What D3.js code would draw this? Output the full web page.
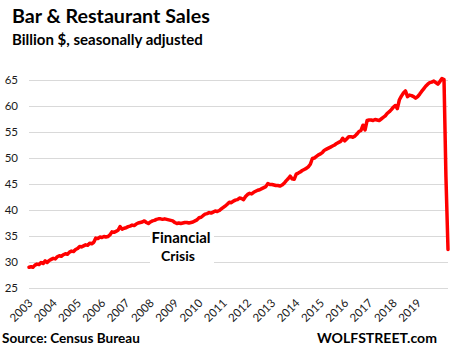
<!DOCTYPE html>
<html>
<head>
<meta charset="utf-8">
<script src="https://cdn.jsdelivr.net/npm/d3@7"></script>
<style>
  body { margin: 0; background: #fff; }
  svg { display: block; font-family: Lato, "Open Sans", sans-serif; }
</style>
</head>
<body>
<svg id="body" width="455" height="352"></svg>
<script>
// monthly sales, billion $, Jan 2003 .. Apr 2020
let startMonth = new Date(2003, 0, 1);
let sales = [
  29.0, 29.1, 29.0, 29.4, 29.6, 29.5, 29.9, 29.7, 30.2, 29.9, 30.3, 30.5, // 2003
  30.7, 30.6, 31.0, 31.2, 31.1, 31.4, 31.6, 31.5, 31.9, 32.1, 32.0, 32.4, // 2004
  32.6, 33.0, 32.9, 33.1, 33.3, 33.2, 33.6, 33.5, 33.8, 34.6, 34.5, 34.8, // 2005
  34.7, 34.9, 34.8, 34.9, 35.2, 35.8, 35.7, 35.9, 36.1, 36.8, 36.3, 36.5, // 2006
  36.6, 36.8, 36.9, 37.1, 37.0, 37.3, 37.5, 37.6, 37.7, 37.9, 37.6, 37.4, // 2007
  37.7, 37.9, 38.0, 38.2, 38.3, 38.3, 38.2, 38.3, 38.2, 38.1, 38.0, 37.9, // 2008
  37.6, 37.4, 37.5, 37.4, 37.5, 37.6, 37.6, 37.5, 37.6, 37.7, 37.9, 38.1, // 2009
  38.5, 38.6, 38.9, 39.2, 39.3, 39.5, 39.4, 39.6, 39.8, 39.7, 39.9, 40.2, // 2010
  40.5, 40.8, 41.1, 41.5, 41.4, 41.7, 41.9, 42.0, 42.3, 42.2, 42.0, 42.6, // 2011
  43.0, 43.2, 43.1, 43.4, 43.6, 43.8, 43.9, 44.1, 44.3, 44.5, 45.1, 44.9, // 2012
  44.9, 44.8, 44.7, 44.7, 44.6, 44.8, 45.1, 45.6, 46.0, 46.5, 46.0, 45.9, // 2013
  46.9, 47.1, 47.3, 47.6, 47.8, 48.0, 48.3, 48.8, 49.9, 50.0, 50.3, 50.6, // 2014
  50.8, 51.1, 51.5, 51.7, 51.9, 52.1, 52.3, 52.5, 52.8, 53.0, 53.2, 53.8, // 2015
  53.3, 53.7, 54.1, 54.1, 54.0, 54.2, 54.6, 55.1, 55.3, 56.3, 55.4, 57.2, // 2016
  57.3, 57.3, 57.2, 57.4, 57.3, 57.2, 57.5, 57.8, 58.1, 58.6, 58.9, 59.3, // 2017
  59.8, 60.1, 59.5, 61.2, 61.9, 62.5, 62.9, 61.8, 62.1, 62.0, 61.8, 61.5, // 2018
  61.8, 62.3, 62.8, 63.3, 63.8, 64.2, 64.5, 64.6, 64.8, 64.5, 64.2, 64.7, // 2019
  65.3, 65.1, 46.4, 32.4                                                  // 2020
];
let yearLabels = ["2003", "2004", "2005", "2006", "2007", "2008", "2009", "2010",
  "2011", "2012", "2013", "2014", "2015", "2016", "2017", "2018", "2019"];
let yTicks = [25, 30, 35, 40, 45, 50, 55, 60, 65];

let svg = d3.select("#body");

let data = sales.map((v, i) => ({ date: d3.timeMonth.offset(startMonth, i), value: v }));

let x = d3.scaleTime()
    .domain(d3.extent(data, d => d.date))
    .range([29, 448]);

let y = d3.scaleLinear()
    .domain([25, 65])
    .range([288, 80]);

// gridlines + y labels
let yAxis = d3.axisLeft(y)
    .tickValues(yTicks)
    .tickSize(-(448 - 29))
    .tickPadding(11);

svg.append("g")
    .attr("transform", "translate(29, 0)")
    .call(yAxis)
    .call(g => g.select(".domain").remove())
    .call(g => g.selectAll("line").attr("stroke", "#d9d9d9").attr("stroke-width", 1))
    .call(g => g.selectAll("text")
        .attr("fill", "#1a1a1a")
        .style("font-size", "11.5px")
        .style("font-family", "Lato"));

// year labels
let xAxis = d3.axisBottom(x)
    .tickValues(yearLabels.map(yr => new Date(+yr, 0, 1)))
    .tickFormat(d3.timeFormat("%Y"))
    .tickSize(0);

svg.append("g")
    .attr("transform", "translate(0, 288)")
    .call(xAxis)
    .call(g => g.select(".domain").remove())
    .call(g => g.selectAll("text")
        .attr("y", 0)
        .attr("dy", "0.35em")
        .attr("text-anchor", "end")
        .attr("transform", "translate(1, 13) rotate(-45)")
        .attr("fill", "#1a1a1a")
        .style("font-size", "11.5px")
        .style("font-family", "Lato"));

// annotation box + text
svg.append("rect")
    .attr("x", 150)
    .attr("y", 226)
    .attr("width", 64)
    .attr("height", 40)
    .attr("fill", "#fff");

let line = d3.line()
    .x(d => x(d.date))
    .y(d => y(d.value));

svg.append("path")
    .datum(data)
    .attr("d", line)
    .attr("fill", "none")
    .attr("stroke", "#ff0000")
    .attr("stroke-width", 3.5)
    .attr("stroke-linejoin", "round")
    .attr("stroke-linecap", "round");

function fitText(sel, width) {
    let size = parseFloat(sel.style("font-size"));
    let len = sel.node().getComputedTextLength();
    sel.style("font-size", (size * width / len) + "px");
}

svg.append("text")
    .attr("x", 181).attr("y", 243)
    .attr("text-anchor", "middle")
    .style("font-weight", "bold").style("font-size", "15px")
    .text("Financial")
    .call(fitText, 59);

svg.append("text")
    .attr("x", 178).attr("y", 261)
    .attr("text-anchor", "middle")
    .style("font-weight", "bold").style("font-size", "15px")
    .text("Crisis")
    .call(fitText, 34);

// titles
svg.append("text")
    .attr("x", 12).attr("y", 23)
    .style("font-weight", "bold").style("font-size", "17px")
    .text("Bar & Restaurant Sales")
    .call(fitText, 198);

svg.append("text")
    .attr("x", 12).attr("y", 45)
    .style("font-weight", "bold").style("font-size", "14px")
    .text("Billion $, seasonally adjusted")
    .call(fitText, 191);

svg.append("text")
    .attr("x", 2).attr("y", 342.5)
    .style("font-weight", "bold").style("font-size", "13px")
    .text("Source: Census Bureau")
    .call(fitText, 138);

svg.append("text")
    .attr("x", 317).attr("y", 342.5)
    .style("font-weight", "bold").style("font-size", "13px")
    .text("WOLFSTREET.com")
    .call(fitText, 120);
</script>
</body>
</html>
